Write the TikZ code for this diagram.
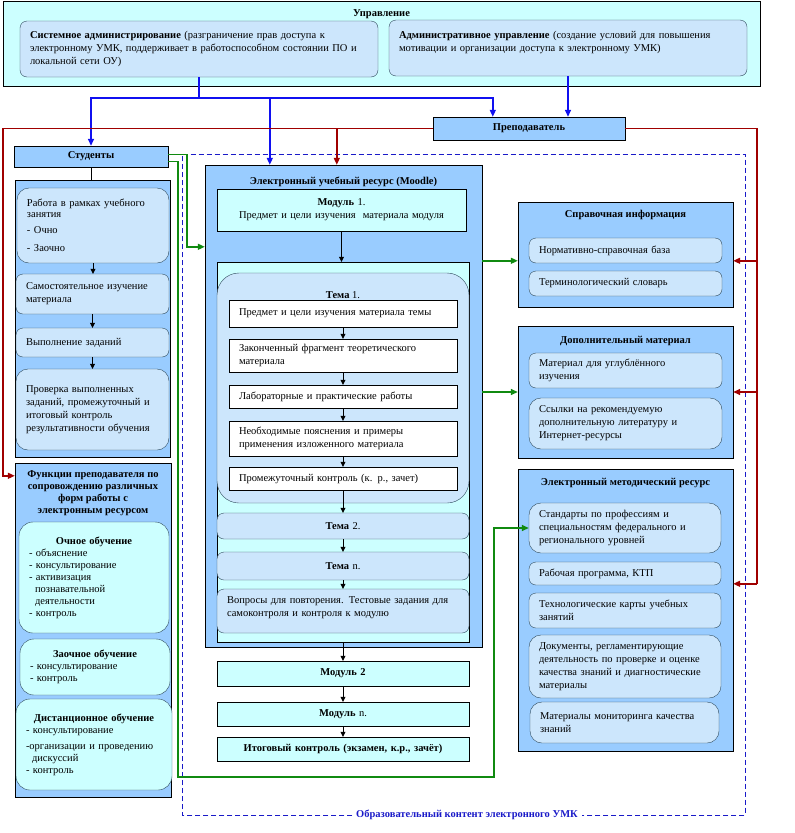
\documentclass[tikz,border=0pt]{standalone}
\usepackage{fontspec}
\setmainfont{Liberation Serif}
\usetikzlibrary{arrows.meta}

\definecolor{cyanfill}{HTML}{CCFFFF}
\definecolor{panelblue}{HTML}{99CCFF}
\definecolor{itemblue}{HTML}{CCE6FC}
\definecolor{itemline}{HTML}{2E4A5C}
\definecolor{linkblue}{HTML}{1010F0}
\definecolor{linkred}{HTML}{A00000}
\definecolor{linkgreen}{HTML}{108A10}
\definecolor{framebl}{HTML}{1A1AC8}

% box from (x1,y1) to (x2,y2), y counted downwards
\newcommand\bx[7][]{%
  \pgfmathsetmacro\bxw{#5-#3}\pgfmathsetmacro\bxh{#6-#4}\pgfmathsetmacro\bxt{#5-#3-20}%
  \node[minimum width=\bxw pt,minimum height=\bxh pt,text width=\bxt pt,
        inner xsep=10pt,inner ysep=0pt,#1] (#2) at ({(#3+#5)/2},{(#4+#6)/2}) {#7};}

\tikzset{
  panel/.style={draw,fill=panelblue},
  head/.style={draw,fill=panelblue,align=center,font=\bfseries},
  item/.style={draw=itemline,fill=itemblue,rounded corners=7pt,align=left},
  soft/.style={draw=itemline,fill=cyanfill,rounded corners=14pt,align=left},
  plain/.style={draw,fill=white,align=left},
  modbox/.style={draw,fill=cyanfill,align=center},
  ttl/.style={font=\bfseries,align=center},
  arr/.style={-{Triangle[length=5pt,width=5pt]}},
  blarr/.style={linkblue,line width=1.5pt,-{Triangle[length=7pt,width=6pt]}},
  rdarr/.style={linkred,line width=1.5pt,-{Triangle[length=7pt,width=6pt]}},
  grarr/.style={linkgreen,line width=1.5pt,-{Triangle[length=7pt,width=6pt]}},
}

\begin{document}
\fontsize{10.5}{13}\selectfont
\begin{tikzpicture}[x=1pt,y=-1pt]
\useasboundingbox (0,0) rectangle (795,833);

%--------------------------------- management
\bx[draw,fill=cyanfill]{upr}{3}{1}{760}{86}{}
\node[ttl] (uprT) at ([yshift=-13pt]upr.north) {Управление};
\bx[item]{sysadm}{20}{21}{378}{77}{\textbf{Системное администрирование} (разграничение прав доступа к\\электронному УМК, поддерживает в работоспособном состоянии ПО и\\локальной сети ОУ)}
\bx[item]{admin}{389}{20}{747}{76}{\textbf{Административное управление} (создание условий для повышения\\мотивации и организации доступа к электронному УМК)\\\mbox{}}
\bx[head]{teacher}{433}{117}{625}{140}{Преподаватель}
\bx[head]{stud}{14}{146}{168}{167}{Студенты}

%--------------------------------- students
\bx[panel]{studP}{15}{180}{170}{457}{}
\bx[item,rounded corners=12pt]{work}{17}{188}{169}{263}{Работа в рамках учебного\\[-2.5pt]занятия\\[3pt]- Очно\\[5pt]- Заочно}
\bx[item]{self}{16}{274}{169}{314}{Самостоятельное изучение\\материала}
\bx[item]{exec}{16}{328}{169}{357}{Выполнение заданий}
\bx[item,rounded corners=12pt]{check}{16}{369}{169}{450}{Проверка выполненных\\заданий, промежуточный и\\итоговый контроль\\результативности обучения}

\bx[panel]{funcs}{15}{463}{171}{797}{}
\node[ttl] (funcsT) at ([yshift=-30pt]funcs.north) {Функции преподавателя по\\[-1pt]сопровождению различных\\[-1pt]форм работы с\\[-1pt]электронным ресурсом};
\bx[soft]{ochn}{19}{522}{169}{633}{\makebox[\linewidth]{\textbf{Очное обучение}}\\[-1pt]- объяснение\\[-1pt]- консультирование\\[-1pt]- активизация\\[-1pt]\hspace*{6pt}познавательной\\[-1pt]\hspace*{6pt}деятельности\\[-1pt]- контроль}
\bx[soft]{zaoch}{20}{639}{170}{695}{\makebox[\linewidth]{\textbf{Заочное обучение}}\\[-1pt]- консультирование\\[-1pt]- контроль}
\bx[soft]{dist}{16}{699}{172}{790}{\makebox[\linewidth]{\textbf{Дистанционное обучение}}\\[-1pt]- консультирование\\[3pt]-организации и проведению\\[-1pt]\hspace*{6pt}дискуссий\\[-1pt]- контроль}

%--------------------------------- moodle
\bx[panel]{moodle}{205}{165}{482}{647}{}
\node[ttl] (moodleT) at ([yshift=-17pt]moodle.north) {Электронный учебный ресурс (Moodle)};
\bx[modbox]{mod1}{217}{189}{466}{231}{\textbf{Модуль} 1.\\Предмет и цели изучения\ \ материала модуля}
\bx[modbox]{temaBox}{217}{262}{469}{642}{}
\bx[item,rounded corners=22pt]{tema1}{217}{273}{469}{503}{}
\node (tema1T) at ([yshift=-22pt]tema1.north) {\textbf{Тема} 1.};
\bx[plain]{ta}{229}{300}{457}{327}{Предмет и цели изучения материала темы}
\bx[plain]{tb}{229}{339}{457}{372}{Законченный фрагмент теоретического\\материала}
\bx[plain]{tc}{229}{385}{457}{408}{Лабораторные и практические работы}
\bx[plain]{td}{229}{421}{457}{456}{Необходимые пояснения и примеры\\применения изложенного материала}
\bx[plain]{te}{229}{467}{457}{490}{Промежуточный контроль (к. р., зачет)}
\bx[item,align=center]{tema2}{217}{513}{469}{539}{\textbf{Тема} 2.}
\bx[item,align=center]{teman}{217}{552}{469}{580}{\textbf{Тема} n.}
\bx[item]{quest}{217}{589}{469}{633}{Вопросы для повторения. Тестовые задания для\\самоконтроля и контроля к модулю\\[-4pt]\mbox{}}
\bx[modbox]{mod2}{217}{661}{469}{686}{\textbf{Модуль 2}}
\bx[modbox]{modn}{217}{702}{469}{726}{\textbf{Модуль} n.}
\bx[modbox]{itog}{217}{737}{469}{761}{\textbf{Итоговый контроль (экзамен, к.р., зачёт)}}

%--------------------------------- resources
\bx[panel]{ref}{518}{202}{733}{307}{}
\node[ttl] (refT) at ([yshift=-13pt]ref.north) {Справочная информация};
\bx[item]{refa}{529}{238}{722}{263}{Нормативно-справочная база}
\bx[item]{refb}{529}{271}{722}{296}{Терминологический словарь}
\bx[panel]{dop}{518}{326}{733}{458}{}
\node[ttl] (dopT) at ([yshift=-15pt]dop.north) {Дополнительный материал};
\bx[item]{dopa}{529}{353}{722}{388}{Материал для углублённого\\изучения}
\bx[item,rounded corners=12pt]{dopb}{529}{398}{722}{449}{Ссылки на рекомендуемую\\дополнительную литературу и\\Интернет-ресурсы}
\bx[panel]{met}{518}{469}{733}{751}{}
\node[ttl] (metT) at ([yshift=-14pt]met.north) {Электронный методический ресурс};
\bx[item,rounded corners=12pt]{meta}{529}{503}{721}{553}{Стандарты по профессиям и\\специальностям федерального и\\регионального уровней}
\bx[item]{metb}{529}{562}{721}{585}{Рабочая программа, КТП}
\bx[item]{metc}{529}{593}{721}{628}{Технологические карты учебных\\занятий}
\bx[item,rounded corners=12pt]{metd}{529}{635}{721}{698}{Документы, регламентирующие\\деятельность по проверке и оценке\\качества знаний и диагностические\\материалы}
\bx[item,rounded corners=12pt]{mete}{530}{702}{719}{743}{Материалы мониторинга качества\\знаний}

\node[font=\bfseries,text=framebl] (content) at (467,815) {Образовательный контент электронного УМК};
\draw[framebl,line width=1pt,dash pattern=on 5pt off 3pt] (content.west) -| (182,154) -- (745,154) |- (content.east);

%--------------------------------- black flow
\draw (stud.south) -- (stud.south |- studP.north);
\draw[arr] (work.south) -- (work.south |- self.north);
\draw[arr] (self.south) -- (self.south |- exec.north);
\draw[arr] (exec.south) -- (exec.south |- check.north);
\draw[arr] (mod1.south) -- (mod1.south |- temaBox.north);
\draw[arr] (ta.south) -- (ta.south |- tb.north);
\draw[arr] (tb.south) -- (tb.south |- tc.north);
\draw[arr] (tc.south) -- (tc.south |- td.north);
\draw[arr] (td.south) -- (td.south |- te.north);
\draw[arr] (te.south) -- (te.south |- tema2.north);
\draw[arr] (tema2.south) -- (tema2.south |- teman.north);
\draw[arr] (teman.south) -- (teman.south |- quest.north);
\draw[arr] (temaBox.south) -- (temaBox.south |- mod2.north);
\draw[arr] (mod2.south) -- (mod2.south |- modn.north);
\draw[arr] (modn.south) -- (modn.south |- itog.north);

%--------------------------------- blue
\draw[linkblue,line width=1.5pt] (sysadm.south) -- ++(0,21) coordinate (bus);
\draw[blarr] (bus) -| (stud.north);
\draw[blarr] (bus) -| ([xshift=65pt]moodle.north west);
\draw[blarr] (bus) -| ([xshift=60pt]teacher.north west);
\draw[blarr] (admin.south) -- (admin.south |- teacher.north);

%--------------------------------- red
\draw[rdarr] (teacher.west) -- (teacher.west -| 3,0) |- ([yshift=-13pt]funcs.north west);
\coordinate (mtop) at ([xshift=132pt]moodle.north west);
\draw[rdarr] (mtop |- teacher.west) -- (mtop);
\coordinate (refIn) at ([yshift=-59pt]ref.north east);
\coordinate (metIn) at ([yshift=-115pt]met.north east);
\draw[linkred,line width=1.5pt] (teacher.east) -| (metIn -| 757,0);
\draw[rdarr] (refIn -| 757,0) -- (refIn);
\draw[rdarr] (dop.east -| 757,0) -- (dop.east);
\draw[rdarr] (metIn -| 757,0) -- (metIn);

%--------------------------------- green
\coordinate (mIn) at ([yshift=-82pt]moodle.north west);
\draw[grarr] ([yshift=2pt]stud.east) -| ([xshift=-18pt]mIn) -- (mIn);
\draw[grarr] ([yshift=-5pt]stud.east) -- ++(10,0) |- ([yshift=-16pt]itog.south) -| ([xshift=-35pt]meta.west) -- (meta.west);
\draw[grarr] (moodle.east |- refIn) -- (ref.west |- refIn);
\draw[grarr] (moodle.east |- dop.west) -- (dop.west);
\end{tikzpicture}
\end{document}
